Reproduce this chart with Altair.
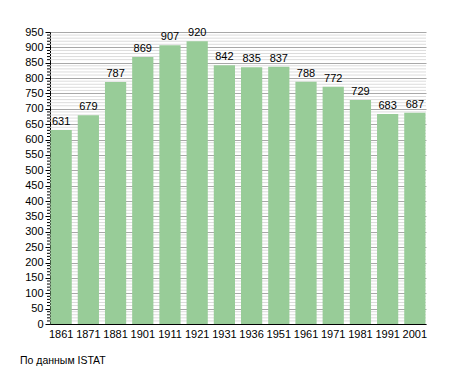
import altair as alt
import pandas as pd

years = ["1861", "1871", "1881", "1901", "1911", "1921", "1931", "1936",
         "1951", "1961", "1971", "1981", "1991", "2001"]
population = [631, 679, 787, 869, 907, 920, 842, 835, 837, 788, 772, 729, 683, 687]
major_ticks = list(range(0, 951, 50))
minor_ticks = [v for v in range(0, 951, 10) if v % 50 != 0]
caption = ["По данным  ISTAT"]

df = pd.DataFrame({"year": years, "pop": population})
minor_df = pd.DataFrame({"pop": minor_ticks})
cap_df = pd.DataFrame({"caption": caption})
FONT = "Liberation Sans"

yscale = alt.Scale(domain=[0, 950], nice=False, zero=True)
yaxis = alt.Axis(values=major_ticks, tickSize=5, tickColor="#000000",
                 domainColor="#000000", grid=True, gridColor="#a8a8a8",
                 gridWidth=1, labelColor="#000000", labelFontSize=11,
                 labelFont=FONT, labelPadding=2)
yenc = alt.Y("pop:Q", scale=yscale, title=None, axis=yaxis)
xenc = alt.X("year:N", sort=None, title=None,
             scale=alt.Scale(paddingInner=0.22, paddingOuter=0.02),
             axis=alt.Axis(labelAngle=0, ticks=False, domainColor="#000000",
                           labelColor="#000000", labelFontSize=11, labelFont=FONT,
                           labelPadding=4))

minor_grid = alt.Chart(minor_df).mark_rule(color="#dcdcdc", strokeWidth=1).encode(
    y=yenc, x=alt.value(0), x2=alt.value(376),
)
minor_tick = alt.Chart(minor_df).mark_rule(color="#000000", strokeWidth=1).encode(
    y=yenc, x=alt.value(-3), x2=alt.value(0),
)

bars = alt.Chart(df).mark_bar(color="#98cc98").encode(x=xenc, y=yenc)

labels = alt.Chart(df).mark_text(baseline="bottom", dy=-3, fontSize=11,
                                 font=FONT, color="#000000").encode(
    x=xenc, y=yenc, text="pop:Q",
)

cap = alt.Chart(cap_df).mark_text(align="left", baseline="middle", fontSize=10.5,
                                  font=FONT, color="#000000").encode(
    x=alt.value(-30), y=alt.value(329), text="caption:N",
)

chart = alt.layer(minor_grid, bars, labels, minor_tick, cap).properties(
    width=376,
    height=292,
    autosize=alt.AutoSizeParams(type="none"),
    padding={"left": 42, "top": 24, "right": 21, "bottom": 46},
).configure_view(stroke=None)

chart.save("out.html", embed_options={"renderer": "svg", "actions": False})
